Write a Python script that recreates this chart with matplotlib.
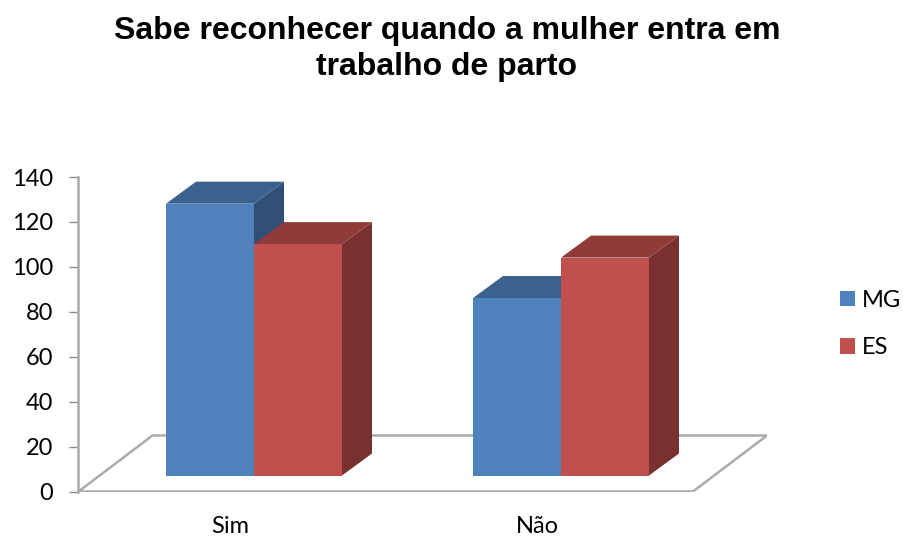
import matplotlib
matplotlib.use('Agg')
import matplotlib.pyplot as plt
from matplotlib.patches import Patch, Polygon
from matplotlib.transforms import ScaledTranslation

categories = ['Sim', 'Não']
series_names = ['MG', 'ES']
mg_values = [121, 79]
es_values = [103, 97]
y_ticks = [0, 20, 40, 60, 80, 100, 120, 140]

front_colors = ['#4F81BD', '#C0504D']
top_colors = ['#3B618F', '#8F3B39']
side_colors = ['#2F4F76', '#7A302E']
grey = '#ABABAB'

fig = plt.figure(figsize=(9.04, 5.37), dpi=100)
ax = fig.add_axes([78.5 / 904, 1 - 491.5 / 537, (767 - 78.5) / 904, 314.5 / 537])

ax.set_ylim(0, 140)
ax.set_xlim((78.5 - 254) / 307, (767 - 254) / 307)

# depth of the fake 3d, in data units
px_x = 1 / 307
px_y = 140 / 314.5
bar_w = 88 * px_x
dx = 30 * px_x
dy = 22 * px_y
base = 16 * px_y
floor_dx = 74 * px_x
floor_dy = 56 * px_y

x0 = ax.get_xlim()[0]
x1 = x0 + 614.5 * px_x
floor = [(x0, 0), (x1, 0), (x1 + floor_dx, floor_dy), (x0 + floor_dx, floor_dy), (x0, 0)]
ax.add_patch(Polygon(floor, closed=True, facecolor='white', edgecolor=grey, lw=1.8, zorder=1))

z = 2
for i in range(len(categories)):
    for j, vals in enumerate([mg_values, es_values]):
        left = i + (j - 1) * bar_w
        top = base + vals[i]
        right = left + bar_w
        ax.add_patch(Polygon([(right, base), (right + dx, base + dy), (right + dx, top + dy), (right, top)],
                             facecolor=side_colors[j], lw=0, zorder=z))
        ax.add_patch(Polygon([(left, top), (right, top), (right + dx, top + dy), (left + dx, top + dy)],
                             facecolor=top_colors[j], lw=0, zorder=z))
        ax.bar(left, vals[i], width=bar_w, bottom=base, align='edge', color=front_colors[j], lw=0, zorder=z + 1)
        z += 2

for s in ['top', 'right']:
    ax.spines[s].set_visible(False)
ax.spines['left'].set_color(grey)
ax.spines['left'].set_linewidth(1.8)
ax.spines['bottom'].set_visible(False)

ax.set_yticks(y_ticks)
ax.set_xticks(range(len(categories)))
ax.set_xticklabels(categories)
ax.tick_params(axis='y', length=6.5, width=1, color='#8C8C8C', pad=11.5, labelsize=17, labelfontfamily='Lato')
ax.tick_params(axis='x', length=0, pad=17.5, labelsize=17, labelfontfamily='Lato')

# category labels sit under the front edge of the floor, not under the bars
shift = ScaledTranslation(-24 / 100, 0, fig.dpi_scale_trans)
for lab in ax.get_xticklabels():
    lab.set_transform(lab.get_transform() + shift)

handles = [Patch(color=front_colors[0], lw=0), Patch(color=front_colors[1], lw=0)]
ax.legend(handles, series_names, loc='center left', bbox_to_anchor=(840 / 904, 1 - 324 / 537),
          bbox_transform=fig.transFigure, frameon=False, prop={'family': 'Lato', 'size': 17},
          handlelength=0.64, handleheight=0.64, handletextpad=0.3, labelspacing=1.13, borderpad=0, borderaxespad=0)

fig.text(447 / 904, 1 - 49 / 537, 'Sabe reconhecer quando a mulher entra em\ntrabalho de parto',
         ha='center', va='center', family='Liberation Sans', fontweight='bold', fontsize=23, linespacing=1.26)

fig.savefig('out.png', dpi=100)
